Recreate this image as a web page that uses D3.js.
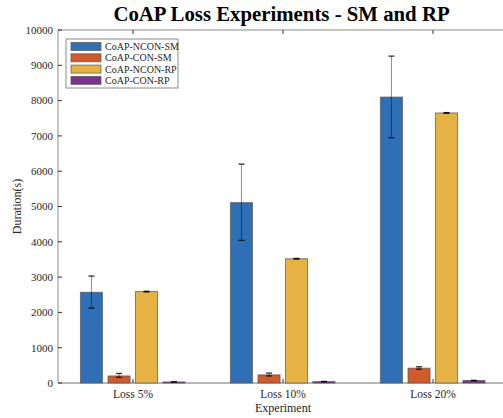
<!DOCTYPE html>
<html>
<head>
<meta charset="utf-8">
<script src="https://cdn.jsdelivr.net/npm/d3@7"></script>
<style>
  body { margin: 0; background: #fff; }
  svg { font-family: 'Liberation Serif', 'Times New Roman', serif; }
</style>
</head>
<body>
<svg width="503" height="418"></svg>
<script>
const categories = ['Loss 5%', 'Loss 10%', 'Loss 20%']
const seriesNames = ['CoAP-NCON-SM', 'CoAP-CON-SM', 'CoAP-NCON-RP', 'CoAP-CON-RP']
const ncon_sm = [2570, 5110, 8100]
const con_sm = [200, 230, 420]
const ncon_rp = [2590, 3520, 7650]
const con_rp = [30, 40, 70]
// error bar low / high
const ncon_sm_err = [[2120, 3030], [4040, 6200], [6950, 9260]]
const con_sm_err = [[160, 270], [200, 280], [390, 460]]
const ncon_rp_err = [[2580, 2600], [3510, 3530], [7640, 7660]]
const con_rp_err = [[25, 35], [35, 45], [65, 75]]
const yTicks = [0, 1000, 2000, 3000, 4000, 5000, 6000, 7000, 8000, 9000, 10000]

const colors = ['#2f6fb6', '#cf5a2b', '#e5b243', '#7a3290']
const values = [ncon_sm, con_sm, ncon_rp, con_rp]
const errs = [ncon_sm_err, con_sm_err, ncon_rp_err, con_rp_err]

const svg = d3.select('svg')

// matlab style numeric x axis 0.5..3.5
const x = d3.scaleLinear().domain([0.5, 3.5]).range([58, 508])
const y = d3.scaleLinear().domain([0, 10000]).range([383, 30])

const offsets = [-0.277, -0.093, 0.09, 0.273]
const barW = x(0.147) - x(0)

const data = []
categories.forEach((c, i) => {
  seriesNames.forEach((s, j) => {
    data.push({cat: i + 1, s: j, v: values[j][i], lo: errs[j][i][0], hi: errs[j][i][1]})
  })
})

// axes box
const axisColor = '#8a8a8a'
svg.append('line').attr('x1', x(0.5)).attr('x2', x(3.5)).attr('y1', y(10000)).attr('y2', y(10000)).attr('stroke', axisColor)
svg.append('line').attr('x1', x(0.5)).attr('x2', x(3.5)).attr('y1', y(0)).attr('y2', y(0)).attr('stroke', '#707070')
svg.append('line').attr('x1', x(0.5)).attr('x2', x(0.5)).attr('y1', y(0)).attr('y2', y(10000)).attr('stroke', axisColor)
svg.append('line').attr('x1', x(3.5)).attr('x2', x(3.5)).attr('y1', y(0)).attr('y2', y(10000)).attr('stroke', axisColor)

// bars
svg.append('g').selectAll('rect')
  .data(data)
  .join('rect')
  .attr('x', d => x(d.cat + offsets[d.s]) - barW / 2)
  .attr('width', barW)
  .attr('y', d => y(d.v))
  .attr('height', d => y(0) - y(d.v))
  .attr('fill', d => colors[d.s])
  .attr('stroke', '#555')
  .attr('stroke-opacity', 0.7)
  .attr('stroke-width', 1)

// error bars
const eb = svg.append('g').selectAll('g').data(data).join('g')
eb.append('line')
  .attr('x1', d => x(d.cat + offsets[d.s])).attr('x2', d => x(d.cat + offsets[d.s]))
  .attr('y1', d => y(d.lo)).attr('y2', d => y(d.hi))
  .attr('stroke', '#000').attr('stroke-opacity', 0.45).attr('stroke-width', 1)
eb.selectAll('.cap').data(d => [[d, d.lo], [d, d.hi]]).join('line')
  .attr('x1', d => x(d[0].cat + offsets[d[0].s]) - 3).attr('x2', d => x(d[0].cat + offsets[d[0].s]) + 3)
  .attr('y1', d => y(d[1])).attr('y2', d => y(d[1]))
  .attr('stroke', '#000').attr('stroke-opacity', 0.8).attr('stroke-width', 1.3)

// ticks (inward)
const tickG = svg.append('g').attr('stroke', '#333')
yTicks.forEach(t => {
  tickG.append('line').attr('x1', x(0.5)).attr('x2', x(0.5) + 4).attr('y1', y(t)).attr('y2', y(t))
  tickG.append('line').attr('x1', x(3.5)).attr('x2', x(3.5) - 4).attr('y1', y(t)).attr('y2', y(t))
})
categories.forEach((c, i) => {
  tickG.append('line').attr('x1', x(i + 1)).attr('x2', x(i + 1)).attr('y1', y(0)).attr('y2', y(0) - 4)
  tickG.append('line').attr('x1', x(i + 1)).attr('x2', x(i + 1)).attr('y1', y(10000)).attr('y2', y(10000) + 4)
})

// y tick labels
svg.append('g').selectAll('text').data(yTicks).join('text')
  .attr('x', x(0.5) - 5).attr('y', d => y(d)).attr('dy', '0.35em')
  .attr('text-anchor', 'end').attr('font-size', 11).attr('fill', '#262626')
  .text(d => d)

// x tick labels
svg.append('g').selectAll('text').data(categories).join('text')
  .attr('x', (d, i) => x(i + 1)).attr('y', 398)
  .attr('text-anchor', 'middle').attr('font-size', 11.5).attr('fill', '#262626')
  .text(d => d)

svg.append('text').attr('x', x(2)).attr('y', 412).attr('text-anchor', 'middle')
  .attr('font-size', 12).attr('fill', '#262626').text('Experiment')

svg.append('text').attr('transform', 'translate(21,' + y(5000) + ') rotate(-90)')
  .attr('text-anchor', 'middle').attr('font-size', 12).attr('fill', '#262626').text('Duration(s)')

svg.append('text').attr('x', 281.5).attr('y', 21).attr('text-anchor', 'middle')
  .attr('font-size', 20.8).attr('font-weight', 'bold').attr('fill', '#000')
  .text('CoAP Loss Experiments - SM and RP')

// legend
const legend = svg.append('g').attr('transform', 'translate(66,39)')
legend.append('rect').attr('width', 112).attr('height', 49).attr('fill', '#fff').attr('stroke', '#8a8a8a')
const le = legend.selectAll('g').data(seriesNames).join('g')
  .attr('transform', (d, i) => 'translate(5,' + (3.5 + i * 11.3) + ')')
le.append('rect').attr('width', 30).attr('height', 8).attr('fill', (d, i) => colors[i])
  .attr('stroke', '#555').attr('stroke-opacity', 0.7)
le.append('text').attr('x', 34).attr('y', 4).attr('dy', '0.35em')
  .attr('font-size', 10).attr('fill', '#262626').text(d => d)
</script>
</body>
</html>
